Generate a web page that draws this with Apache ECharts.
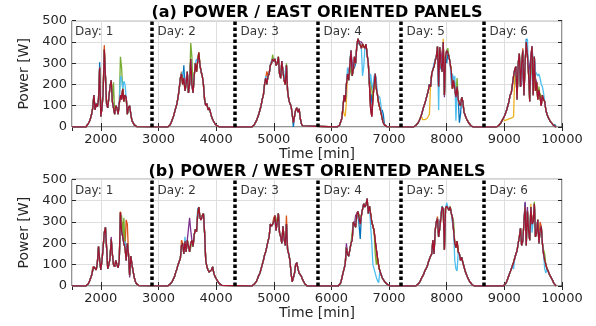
<!DOCTYPE html>
<html>
<head>
<meta charset="utf-8">
<script src="https://cdn.jsdelivr.net/npm/echarts@6/dist/echarts.min.js"></script>
<style>
  html, body { margin: 0; padding: 0; background: #fff; }
  #chart { width: 596px; height: 326px; }
</style>
</head>
<body>
<div id="chart"></div>
<script>
// panels / series
const panelTitles = ['(a) POWER / EAST ORIENTED PANELS', '(b) POWER / WEST ORIENTED PANELS'];
const seriesColors = ['#0072BD', '#D95319', '#EDB120', '#7E2F8E', '#77AC30', '#4DBEEE', '#A2142F'];
const dayBoundaries = [2880, 4320, 5760, 7200, 8640];
const dayLabels = ['Day: 1', 'Day: 2', 'Day: 3', 'Day: 4', 'Day: 5', 'Day: 6'];
const timeStep = 20; // minutes between samples

// east panels: shared profile (drawn by all strings), one array per day
const eastDayStarts = [1740, 3160, 4620, 6100, 7420, 8860];
const eastDay1 = [0, 5, 15, 25, 40, 60, 90, 150, 80, 110, 95, 130, 280, 50, 90, 160, 365, 240, 110, 90, 140, 190, 220, 120, 90, 60, 100, 90, 60, 110, 150, 130, 180, 120, 150, 140, 60, 90, 100, 60, 30, 20, 10, 5, 2, 0];
const eastDay2 = [0, 3, 10, 20, 35, 50, 70, 90, 110, 140, 180, 230, 250, 200, 230, 170, 200, 260, 160, 200, 320, 200, 160, 240, 300, 260, 310, 350, 290, 260, 240, 200, 130, 100, 110, 80, 90, 70, 50, 35, 25, 15, 10, 5, 2, 0];
const eastDay3 = [0, 3, 10, 20, 30, 45, 60, 80, 100, 130, 150, 200, 230, 200, 240, 250, 290, 300, 320, 310, 320, 290, 300, 330, 250, 230, 310, 260, 220, 200, 290, 170, 130, 110, 100, 60, 20, 50, 80, 90, 70, 85, 40, 15, 5, 0];
const eastDay4 = [0, 3, 8, 15, 40, 90, 150, 120, 200, 250, 220, 290, 360, 240, 270, 330, 300, 380, 415, 400, 405, 370, 390, 380, 370, 390, 340, 300, 200, 90, 50, 130, 200, 250, 180, 150, 110, 90, 70, 40, 20, 10, 5, 2, 0];
const eastDay5 = [0, 3, 6, 10, 18, 28, 40, 55, 75, 95, 110, 130, 150, 170, 200, 190, 250, 270, 285, 310, 330, 378, 190, 375, 300, 260, 400, 150, 330, 360, 350, 330, 300, 260, 180, 220, 180, 140, 190, 130, 110, 100, 140, 120, 70, 55, 40, 30, 20, 12, 6, 2, 0];
const eastDay6 = [0, 3, 6, 12, 20, 30, 40, 50, 65, 80, 100, 120, 150, 160, 200, 240, 270, 285, 130, 300, 345, 190, 300, 360, 150, 300, 400, 340, 250, 120, 330, 380, 150, 330, 170, 210, 130, 175, 140, 100, 150, 130, 120, 80, 60, 45, 35, 25, 18, 12, 6, 2, 0];

// east: where a string departs from the shared profile [time, W]
const eastBlue = [[1980, 305], [2060, 340], [3440, 290], [4960, 310], [5340, 0], [6320, 310], [6400, 280], [6460, 380], [6700, 150], [6720, 160], [6880, 80], [6900, 60], [7800, 320], [7880, 300], [8000, 300], [8220, 20], [8240, 60], [9380, 415], [9420, 300], [9460, 250], [9500, 300], [9880, 10]];
const eastOrange = [[1880, 140], [2060, 385], [3400, 260], [4880, 262], [6440, 390], [7920, 300], [9320, 370]];
const eastYellow = [[6220, 60], [6240, 50], [6260, 120], [7580, 35], [7600, 35], [7620, 35], [7640, 38], [7660, 40], [7680, 45], [7700, 60], [7720, 200], [7940, 415], [9000, 30], [9020, 32], [9040, 34], [9060, 36], [9080, 38], [9100, 40], [9120, 42], [9140, 45], [9160, 48], [9180, 250]];
const eastPurple = [[3480, 230], [3700, 330], [5080, 320], [6300, 260], [6360, 300], [6520, 400], [7900, 350], [7960, 140], [8080, 240], [9240, 280], [9300, 200], [9440, 250], [9540, 230]];
const eastGreen = [[1860, 100], [2220, 210], [2340, 330], [2360, 280], [3560, 395], [3580, 330], [4980, 340], [5220, 300], [6340, 250], [6680, 220], [6700, 180], [8020, 370], [8140, 210], [8180, 230], [9480, 300], [9600, 190], [9640, 150]];
const eastCyan = [[2060, 350], [2340, 240], [2360, 230], [2400, 215], [2420, 200], [3420, 260], [3660, 320], [3700, 330], [4860, 240], [5200, 260], [6280, 280], [6540, 240], [6560, 280], [6680, 250], [6700, 200], [6720, 180], [6740, 240], [6760, 250], [6780, 220], [6820, 150], [6840, 140], [6860, 100], [7780, 300], [7860, 80], [8080, 200], [8100, 250], [8140, 240], [8160, 30], [8180, 190], [9400, 415], [9540, 260], [9560, 250], [9580, 240], [9600, 250], [9620, 230], [9640, 200], [9660, 190], [9680, 160]];

// west panels
const westDayStarts = [1740, 3160, 4620, 6120, 7460, 8980];
const westDay1 = [0, 3, 10, 20, 35, 50, 75, 90, 85, 75, 110, 185, 120, 75, 120, 180, 250, 275, 180, 80, 100, 130, 220, 150, 100, 90, 120, 100, 85, 120, 345, 260, 230, 200, 180, 120, 200, 150, 50, 140, 100, 70, 40, 20, 10, 5, 2, 0];
const westDay2 = [0, 3, 8, 15, 22, 30, 45, 65, 80, 100, 115, 130, 190, 200, 150, 210, 160, 215, 210, 160, 200, 215, 185, 240, 265, 255, 330, 370, 320, 310, 330, 340, 250, 120, 90, 75, 65, 60, 75, 90, 60, 45, 35, 25, 18, 10, 6, 3, 0];
const westDay3 = [0, 3, 8, 15, 22, 35, 50, 60, 80, 100, 120, 145, 160, 185, 210, 230, 290, 280, 290, 300, 330, 260, 300, 340, 250, 230, 200, 280, 220, 190, 290, 170, 150, 120, 60, 20, 40, 60, 100, 110, 80, 60, 65, 45, 30, 20, 10, 5, 0];
const westDay4 = [0, 5, 15, 35, 60, 80, 105, 180, 150, 140, 170, 200, 215, 300, 290, 275, 335, 350, 355, 290, 330, 360, 385, 370, 380, 410, 340, 375, 370, 300, 280, 260, 210, 170, 130, 95, 70, 55, 40, 30, 22, 15, 10, 5, 2, 0];
const westDay5 = [0, 3, 8, 15, 22, 35, 45, 55, 70, 80, 90, 110, 125, 140, 150, 215, 150, 260, 300, 315, 230, 270, 320, 370, 360, 170, 365, 375, 370, 355, 370, 340, 320, 260, 200, 180, 210, 160, 150, 120, 135, 110, 90, 70, 55, 42, 30, 20, 12, 6, 2, 0];
const westDay6 = [0, 3, 10, 20, 35, 50, 65, 80, 95, 110, 130, 150, 165, 200, 230, 270, 190, 210, 300, 370, 190, 350, 260, 215, 370, 290, 300, 385, 230, 250, 310, 200, 260, 280, 200, 150, 120, 100, 80, 70, 55, 45, 35, 25, 12, 5, 0];

const westBlue = [[3680, 360], [5000, 310], [6440, 320], [6500, 220], [6620, 390], [7900, 340], [7920, 375], [8100, 300], [9360, 390], [9380, 300], [9560, 280]];
const westOrange = [[1860, 90], [2380, 300], [2440, 310], [2460, 290], [3400, 215], [5000, 320], [5220, 330], [6580, 390], [7840, 325], [9620, 300]];
const westYellow = [[2340, 350], [2360, 300], [5200, 250], [6780, 130], [8020, 360], [9380, 220], [9460, 385]];
const westPurple = [[2180, 230], [2500, 40], [3540, 320], [3560, 260], [6260, 200], [6420, 330], [7880, 300], [9360, 395], [9400, 370]];
const westGreen = [[2340, 320], [2360, 330], [2400, 320], [3560, 180], [5040, 300], [6360, 250], [6500, 320], [6760, 150], [6780, 100], [8060, 375], [8120, 300], [9520, 395], [9680, 170], [9700, 150]];
const westCyan = [[2340, 330], [2420, 210], [3460, 230], [3700, 340], [5020, 310], [6700, 200], [6720, 100], [6740, 80], [6760, 60], [6780, 40], [6800, 25], [6820, 15], [8000, 390], [8140, 120], [8160, 80], [8180, 70], [9160, 80], [9480, 250], [9700, 80], [9720, 60]];

const eastDays = [eastDay1, eastDay2, eastDay3, eastDay4, eastDay5, eastDay6];
const westDays = [westDay1, westDay2, westDay3, westDay4, westDay5, westDay6];
const eastStrings = [eastBlue, eastOrange, eastYellow, eastPurple, eastGreen, eastCyan, []];
const westStrings = [westBlue, westOrange, westYellow, westPurple, westGreen, westCyan, []];

const xMin = 1500;
const xMax = 10000;
const labelLevel = 447;

const buildLine = (starts, days, changes) => {
  const byTime = new Map();
  byTime.set(xMin, 0);
  days.forEach((vals, d) => {
    vals.forEach((v, i) => byTime.set(starts[d] + i * timeStep, v));
  });
  changes.forEach(([t, v]) => byTime.set(t, v));
  return [...byTime.entries()].sort((a, b) => a[0] - b[0]);
};

const font = 'DejaVu Sans';
const axisColor = '#262626';

const chart = echarts.init(document.getElementById('chart'), null, { renderer: 'canvas' });

const grids = [
  { left: 72, top: 20.7, width: 490, height: 106.3 },
  { left: 72, top: 179.3, width: 490, height: 106.7 },
].map((g) => ({ ...g, show: true, borderColor: axisColor, borderWidth: 1, backgroundColor: '#fff' }));

const xAxes = [];
const yAxes = [];
[0, 1].forEach((g) => {
  xAxes.push({
    gridIndex: g, type: 'value', position: 'bottom', min: xMin, max: xMax, splitNumber: 8,
    axisLine: { show: false },
    axisTick: { inside: true, length: 4, lineStyle: { color: axisColor } },
    axisLabel: {
      showMinLabel: false, margin: 6, color: axisColor, fontFamily: font, fontSize: 13,
      formatter: (v) => String(v),
    },
    splitLine: { show: true, lineStyle: { color: '#dedede', width: 1 } },
    name: 'Time [min]', nameLocation: 'middle', nameGap: 20,
    nameTextStyle: { color: axisColor, fontFamily: font, fontSize: 14 },
  });
  xAxes.push({
    gridIndex: g, type: 'value', position: 'top', min: xMin, max: xMax, splitNumber: 8,
    axisLine: { show: false },
    axisTick: { inside: true, length: 4, lineStyle: { color: axisColor } },
    axisLabel: { show: false },
    splitLine: { show: false },
  });
  yAxes.push({
    gridIndex: g, type: 'value', position: 'left', min: 0, max: 500, interval: 100,
    axisLine: { show: false },
    axisTick: { inside: true, length: 4, lineStyle: { color: axisColor } },
    axisLabel: { margin: 5, color: axisColor, fontFamily: font, fontSize: 13 },
    splitLine: { show: true, lineStyle: { color: '#dedede', width: 1 } },
    name: 'Power [W]', nameLocation: 'middle', nameGap: 39, nameRotate: 90,
    nameTextStyle: { color: axisColor, fontFamily: font, fontSize: 14 },
  });
  yAxes.push({
    gridIndex: g, type: 'value', position: 'right', min: 0, max: 500, interval: 100,
    axisLine: { show: false },
    axisTick: { inside: true, length: 4, lineStyle: { color: axisColor } },
    axisLabel: { show: false },
    splitLine: { show: false },
  });
});

const series = [];
[[eastDayStarts, eastDays, eastStrings], [westDayStarts, westDays, westStrings]].forEach(([starts, days, strings], g) => {
  strings.forEach((changes, s) => {
    series.push({
      type: 'line',
      xAxisIndex: g * 2,
      yAxisIndex: g * 2,
      data: buildLine(starts, days, changes),
      showSymbol: false,
      symbol: 'none',
      silent: true,
      lineStyle: { color: seriesColors[s], width: 1.3 },
      z: 2,
    });
  });

  // day labels + dotted day boundaries
  const labelStarts = [xMin, ...dayBoundaries];
  series.push({
    type: 'scatter',
    xAxisIndex: g * 2,
    yAxisIndex: g * 2,
    symbolSize: 0,
    silent: true,
    z: 5,
    data: labelStarts.map((t, i) => ({
      value: [t, labelLevel],
      label: { distance: i === 0 ? 3 : 6 },
    })),
    label: {
      show: true,
      position: 'right',
      formatter: (p) => dayLabels[p.dataIndex],
      color: '#000',
      fontFamily: font,
      fontSize: 12,
    },
    markLine: {
      silent: true,
      symbol: ['none', 'none'],
      label: { show: false },
      lineStyle: { color: '#000', width: 3.5, type: [3.5, 2.5], cap: 'butt' },
      emphasis: { disabled: true },
      data: dayBoundaries.map((t) => ({ xAxis: t })),
    },
  });
});

const option = {
  animation: false,
  backgroundColor: '#fff',
  title: panelTitles.map((text, i) => ({
    text,
    left: 317,
    top: i === 0 ? 4.5 : 164,
    textAlign: 'center',
    padding: 0,
    textStyle: { fontFamily: font, fontWeight: 'bold', fontSize: 16, color: '#000' },
  })),
  grid: grids,
  xAxis: xAxes,
  yAxis: yAxes,
  series,
};

chart.setOption(option);
</script>
</body>
</html>
